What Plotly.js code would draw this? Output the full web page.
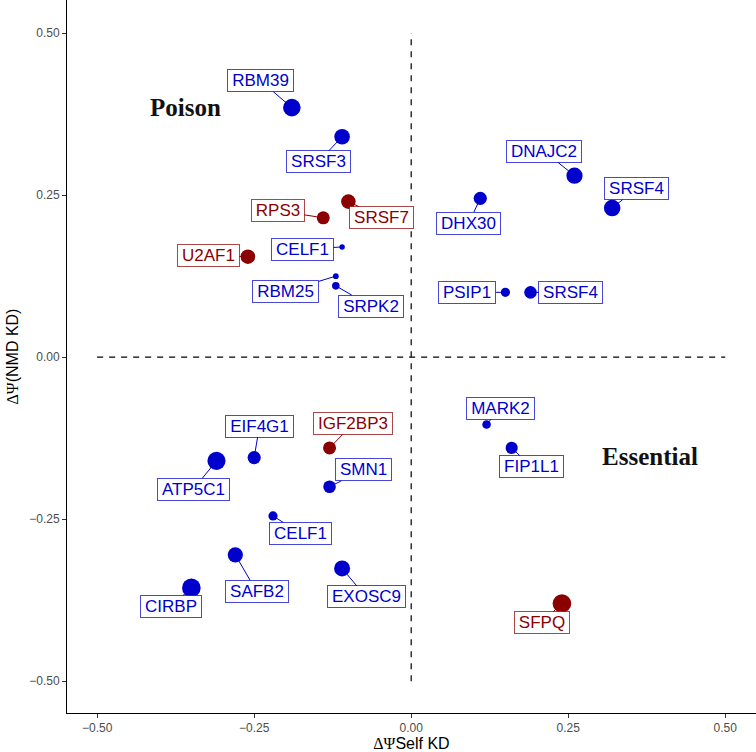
<!DOCTYPE html>
<html>
<head>
<meta charset="utf-8">
<script src="https://cdn.plot.ly/plotly-3.0.1.min.js"></script>
<style>
  html, body { margin: 0; padding: 0; background: #ffffff; }
  #chart { width: 756px; height: 752px; }
</style>
</head>
<body>
<div id="chart"></div>
<script>
// ---------------- data ----------------
const genes = ['RBM39','SRSF3','RPS3','SRSF7','U2AF1','CELF1','RBM25','SRPK2','DHX30','DNAJC2','SRSF4','PSIP1','SRSF4','MARK2','FIP1L1','SFPQ','EIF4G1','ATP5C1','IGF2BP3','SMN1','CELF1','SAFB2','CIRBP','EXOSC9'];
const dPsiSelf = [-0.19,-0.11,-0.14,-0.10,-0.26,-0.11,-0.12,-0.12,0.11,0.26,0.32,0.15,0.19,0.12,0.16,0.24,-0.25,-0.31,-0.13,-0.13,-0.22,-0.28,-0.35,-0.11];
const dPsiNMD  = [0.385,0.34,0.215,0.24,0.155,0.17,0.125,0.11,0.245,0.28,0.23,0.10,0.10,-0.104,-0.14,-0.38,-0.155,-0.16,-0.14,-0.20,-0.245,-0.305,-0.356,-0.326];
const score    = [8.8,7.8,6.5,7.3,7.3,2.7,2.9,3.8,6.6,8.1,8.3,4.6,6.3,4.3,6.1,9.3,6.6,9.1,6.5,6.3,4.6,7.6,9.3,8.0];
const group    = ['A','A','B','B','B','A','A','A','A','A','A','A','A','A','A','B','A','A','B','A','A','A','A','A'];
const quadrantLabels = ['Poison','Essential'];
const quadrantX = [-0.36, 0.38];
const quadrantY = [0.385, -0.153];
const tickVals = [-0.5,-0.25,0,0.25,0.5];

// ---------------- style / layout config ----------------
const colors = {A: '#0000CD', B: '#8B0000'};
const borderColors = {A: 'rgba(0,0,205,0.72)', B: 'rgba(139,0,0,0.72)'};
// repel-style label offsets (pixels) from each point
const labelOffsets = [[-31.5,-27],[-23.7,25],[-45.5,-7],[33.5,16],[-39.7,-1.3],[-39.7,2.3],[-50,15.3],[35,20.3],
  [-11.5,24.7],[-30.2,-24.3],[24,-19.3],[-38.3,0],[40.2,0],[13.7,-16.5],[19.6,18.8],[-20.2,19.3],
  [5.3,-31.6],[-23.3,28.6],[23.8,-24.4],[33.6,-16.9],[27.7,17.6],[21.2,36.5],[-20.5,18.5],[24,28.5]];
const LABEL_FONT = 17;
const sizeScale = 2.0;

const canvas = document.createElement('canvas');
const ctx = canvas.getContext('2d');
ctx.font = LABEL_FONT + 'px "Liberation Sans", Arial, sans-serif';

const traces = ['A','B'].map(g => {
  const idx = genes.map((_, i) => i).filter(i => group[i] === g);
  return {
    type: 'scatter', mode: 'markers',
    x: idx.map(i => dPsiSelf[i]), y: idx.map(i => dPsiNMD[i]),
    marker: {color: colors[g], opacity: 1, size: idx.map(i => score[i] * sizeScale), line: {width: 0}},
    opacity: 1,
    hoverinfo: 'text', text: idx.map(i => genes[i]),
    showlegend: false, cliponaxis: false
  };
});

const annotations = genes.map((gname, i) => {
  const g = group[i];
  const w = ctx.measureText(gname).width;
  return {
    x: dPsiSelf[i], y: dPsiNMD[i], xref: 'x', yref: 'y',
    text: gname, showarrow: true, arrowhead: 0, arrowwidth: 1,
    arrowcolor: colors[g], standoff: 0,
    ax: labelOffsets[i][0], ay: labelOffsets[i][1],
    font: {family: 'Liberation Sans, Arial, sans-serif', size: LABEL_FONT, color: colors[g]},
    bgcolor: '#ffffff', bordercolor: borderColors[g], borderwidth: 1, borderpad: 2,
    width: Math.round(w + 4), height: 17, align: 'center', valign: 'middle'
  };
});
quadrantLabels.forEach((t, i) => {
  annotations.push({
    x: quadrantX[i], y: quadrantY[i], xref: 'x', yref: 'y', showarrow: false,
    text: '<b>' + t + '</b>',
    font: {family: 'Liberation Serif, DejaVu Serif, serif', size: 25, color: '#111111'}
  });
});

const shapes = [
  {type: 'line', xref: 'x', yref: 'y', x0: 0, x1: 0, y0: -0.5, y1: 0.5,
   line: {color: '#000000', width: 1.2, dash: '6px,6px'}},
  {type: 'line', xref: 'x', yref: 'y', x0: -0.5, x1: 0.5, y0: 0, y1: 0,
   line: {color: '#000000', width: 1.2, dash: '6px,6px'}}
];

const axisCommon = {
  showgrid: false, zeroline: false, showline: true, linecolor: '#000000', linewidth: 1,
  ticks: 'outside', ticklen: 4, tickwidth: 1, tickcolor: '#333333',
  tickvals: tickVals, tickformat: '.2f',
  tickfont: {family: 'Liberation Sans, Arial, sans-serif', size: 12, color: '#4D4D4D'}
};

const layout = {
  width: 756, height: 752,
  margin: {l: 67, r: 0, t: 0, b: 39},
  paper_bgcolor: '#ffffff', plot_bgcolor: '#ffffff',
  xaxis: Object.assign({}, axisCommon, {
    range: [-0.548, 0.549],
    title: {text: '<span style="font-family:Liberation Serif">ΔΨ</span>Self KD',
            font: {family: 'Liberation Sans, Arial, sans-serif', size: 16, color: '#000000'}, standoff: 4}
  }),
  yaxis: Object.assign({}, axisCommon, {
    range: [-0.549, 0.551],
    title: {text: '<span style="font-family:Liberation Serif">ΔΨ</span>(NMD KD)',
            font: {family: 'Liberation Sans, Arial, sans-serif', size: 16, color: '#000000'}, standoff: 6}
  }),
  shapes: shapes,
  annotations: annotations,
  showlegend: false
};

Plotly.newPlot('chart', traces, layout, {staticPlot: true, displayModeBar: false});
</script>
</body>
</html>
